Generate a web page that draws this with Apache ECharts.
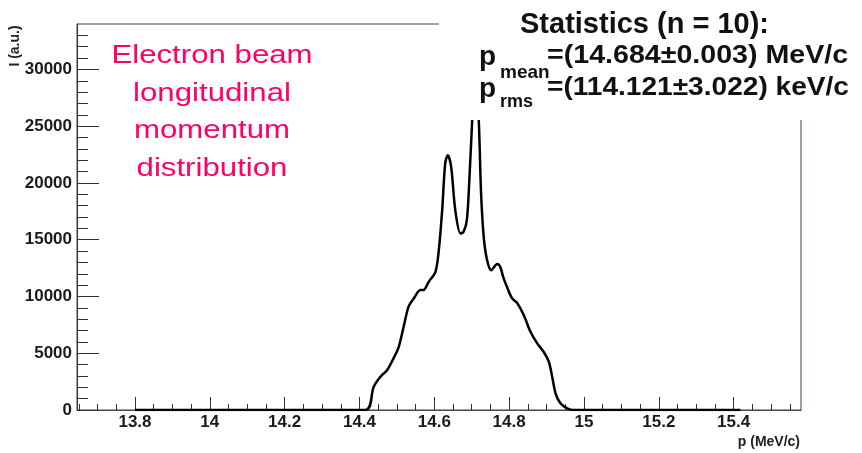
<!DOCTYPE html>
<html>
<head>
<meta charset="utf-8">
<script src="https://cdn.jsdelivr.net/npm/echarts@6/dist/echarts.min.js"></script>
<style>
  html, body { margin: 0; padding: 0; background: #fff; }
  #chart { width: 862px; height: 453px; }
</style>
</head>
<body>
<div id="chart"></div>
<script>
// momentum (MeV/c) and intensity (a.u.)
const momentum = [13.800, 14.416, 14.438, 14.456, 14.474, 14.491, 14.505, 14.518, 14.531, 14.545,
  14.563, 14.571, 14.585, 14.603, 14.612, 14.621, 14.629, 14.636, 14.645, 14.656,
  14.670, 14.678, 14.687, 14.694, 14.701, 14.710, 14.719, 14.725, 14.732, 14.741,
  14.752, 14.768, 14.776, 14.784, 14.794, 14.808, 14.821, 14.839, 14.857, 14.875,
  14.892, 14.906, 14.915, 14.924, 14.937, 14.955, 14.972, 15.418];
const intensity = [0, 0, 2050, 2930, 3520, 4550, 5570, 7330, 9090, 9830,
  10560, 10560, 11290, 12170, 14080, 17600, 21710, 22440, 21410, 17600,
  15550, 15690, 16720, 20530, 25370, 31000, 25370, 19070, 15250, 13200,
  12320, 12850, 12610, 11730, 10850, 9830, 9440, 8360, 6890, 5870,
  5130, 4250, 2930, 1470, 590, 150, 0, 0];

const xTicks = [13.8, 14, 14.2, 14.4, 14.6, 14.8, 15, 15.2, 15.4];
const yTicks = [0, 5000, 10000, 15000, 20000, 25000, 30000];
const xMin = 13.645, xMax = 15.58;
const yMax = 34000;

const titleLines = ['Electron beam', 'longitudinal', 'momentum', 'distribution'];
const statsTitle = 'Statistics (n = 10):';
const meanText = '=(14.684\u00b10.003) MeV/c';
const rmsText = '=(114.121\u00b13.022) keV/c';

// minor tick positions
const xMinor = [];
for (let v = 13.65; v < xMax; v += 0.05) xMinor.push(Math.round(v * 100) / 100);
const yMinor = [];
for (let v = 1000; v < yMax; v += 1000) yMinor.push(v);

const FONT = '"Liberation Sans", Arial, Helvetica, sans-serif';
const chart = echarts.init(document.getElementById('chart'));

const axisLabelStyle = {
  color: '#1a1a1a',
  fontFamily: FONT,
  fontWeight: 'bold',
  fontSize: 17
};

chart.setOption({
  backgroundColor: '#fff',
  animation: false,
  grid: {
    left: 77, right: 61, top: 24, bottom: 43,
    show: true,
    borderColor: '#4d3b3b',
    borderWidth: 1,
    backgroundColor: 'transparent'
  },
  xAxis: [
    {
      type: 'value', min: xMin, max: xMax, position: 'bottom',
      axisLine: { show: true, onZero: false, lineStyle: { color: '#5a4444', width: 1 } },
      axisTick: { show: true, inside: true, length: 13, customValues: xTicks, lineStyle: { color: '#333' } },
      axisLabel: Object.assign({ customValues: xTicks, margin: 4, formatter: v => String(+v.toFixed(1)) }, axisLabelStyle),
      splitLine: { show: false }
    },
    {
      type: 'value', min: xMin, max: xMax, position: 'bottom', offset: 0,
      axisLine: { show: false },
      axisTick: { show: true, inside: true, length: 6, customValues: xMinor, lineStyle: { color: '#333' } },
      axisLabel: { show: false },
      splitLine: { show: false }
    }
  ],
  yAxis: [
    {
      type: 'value', min: 0, max: yMax, position: 'left',
      axisLine: { show: true, lineStyle: { color: '#333', width: 1 } },
      axisTick: { show: true, inside: true, length: 22, customValues: yTicks, lineStyle: { color: '#333' } },
      axisLabel: Object.assign({ customValues: yTicks, margin: 5, formatter: v => String(v) }, axisLabelStyle),
      splitLine: { show: false }
    },
    {
      type: 'value', min: 0, max: yMax, position: 'left', offset: 0,
      axisLine: { show: false },
      axisTick: { show: true, inside: true, length: 11, customValues: yMinor, lineStyle: { color: '#333' } },
      axisLabel: { show: false },
      splitLine: { show: false }
    }
  ],
  series: [{
    type: 'line',
    xAxisIndex: 0,
    yAxisIndex: 0,
    data: momentum.map((p, i) => [p, intensity[i]]),
    showSymbol: false,
    symbol: 'none',
    smooth: 0.3,
    clip: true,
    lineStyle: { color: '#000', width: 2.5 },
    z: 5
  }],
  graphic: {
    elements: [
      // white stats box, hides the frame and the top of the peak
      { type: 'rect', shape: { x: 439, y: 0, width: 423, height: 120 }, style: { fill: '#fff' }, z: 100 },
      {
        type: 'text', x: 212, y: 37, scaleX: 1.2, z: 101,
        style: {
          text: titleLines.join('\n'), fill: '#ff0066',
          fontFamily: FONT, fontSize: 26, lineHeight: 37.7,
          textAlign: 'center', textVerticalAlign: 'top'
        }
      },
      {
        type: 'text', x: 520, y: 25, z: 101,
        style: { text: statsTitle, fill: '#111', fontFamily: FONT, fontWeight: 'bold', fontSize: 29,
          textAlign: 'left', textVerticalAlign: 'middle' }
      },
      {
        type: 'text', x: 479, y: 57, z: 101,
        style: { text: 'p', fill: '#111', fontFamily: FONT, fontWeight: 'bold', fontSize: 28,
          textAlign: 'left', textVerticalAlign: 'middle' }
      },
      {
        type: 'text', x: 500, y: 73, z: 101,
        style: { text: 'mean', fill: '#111', fontFamily: FONT, fontWeight: 'bold', fontSize: 19,
          textAlign: 'left', textVerticalAlign: 'middle' }
      },
      {
        type: 'text', x: 547, y: 56, scaleX: 1.1, z: 101,
        style: { text: meanText, fill: '#111', fontFamily: FONT, fontWeight: 'bold', fontSize: 26,
          textAlign: 'left', textVerticalAlign: 'middle' }
      },
      {
        type: 'text', x: 479, y: 89, z: 101,
        style: { text: 'p', fill: '#111', fontFamily: FONT, fontWeight: 'bold', fontSize: 28,
          textAlign: 'left', textVerticalAlign: 'middle' }
      },
      {
        type: 'text', x: 500, y: 102, z: 101,
        style: { text: 'rms', fill: '#111', fontFamily: FONT, fontWeight: 'bold', fontSize: 18,
          textAlign: 'left', textVerticalAlign: 'middle' }
      },
      {
        type: 'text', x: 547, y: 88, scaleX: 1.08, z: 101,
        style: { text: rmsText, fill: '#111', fontFamily: FONT, fontWeight: 'bold', fontSize: 26,
          textAlign: 'left', textVerticalAlign: 'middle' }
      },
      // axis titles
      {
        type: 'text', x: 15, y: 46, rotation: Math.PI / 2, z: 101,
        style: { text: 'I (a.u.)', fill: '#222', fontFamily: FONT, fontWeight: 'bold', fontSize: 14,
          textAlign: 'center', textVerticalAlign: 'middle' }
      },
      {
        type: 'text', x: 800, y: 442, z: 101,
        style: { text: 'p (MeV/c)', fill: '#222', fontFamily: FONT, fontWeight: 'bold', fontSize: 14,
          textAlign: 'right', textVerticalAlign: 'middle' }
      }
    ]
  }
});

window.addEventListener('resize', () => {
  chart.resize();
});
</script>
</body>
</html>
